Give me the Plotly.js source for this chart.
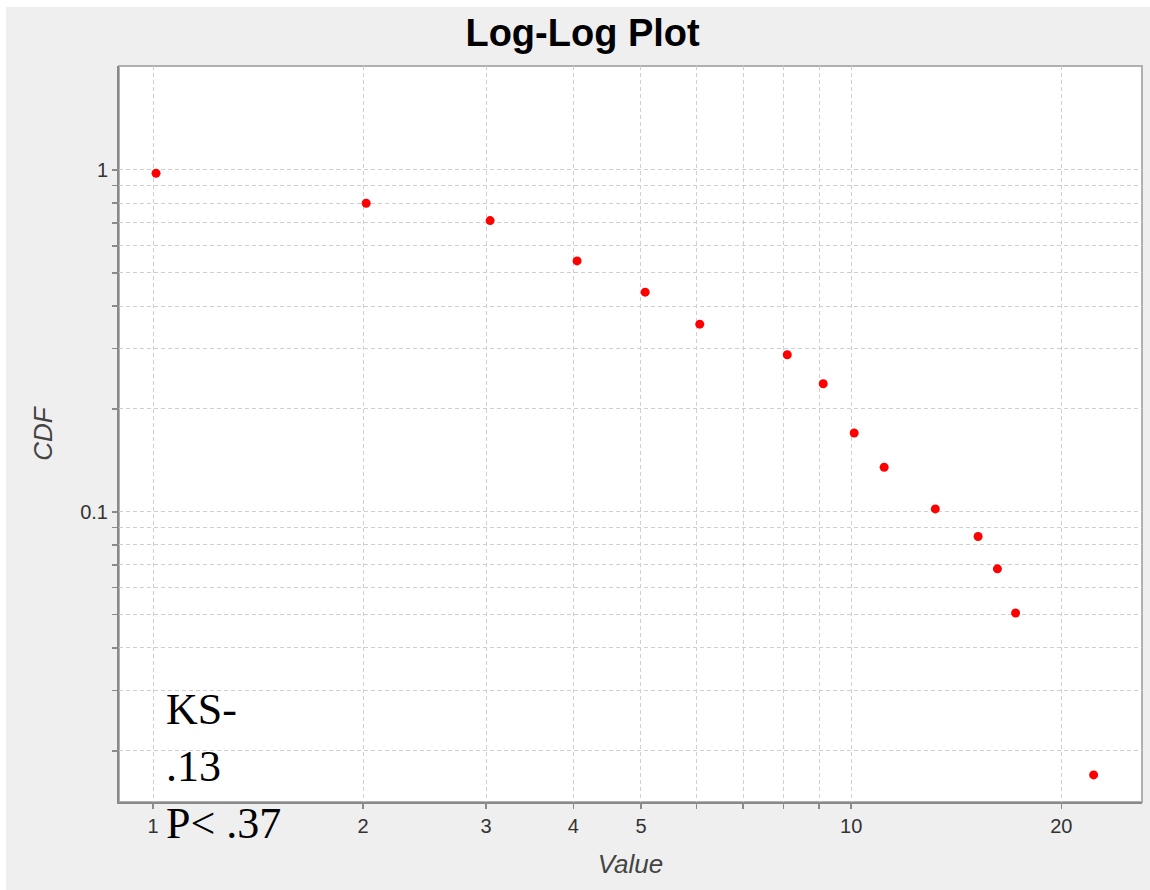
<!DOCTYPE html>
<html>
<head>
<meta charset="utf-8">
<script src="https://cdn.plot.ly/plotly-3.0.1.min.js"></script>
<style>
  html, body { margin: 0; padding: 0; background: #ffffff; width: 1150px; height: 890px; overflow: hidden; }
  #chart { position: absolute; left: 6px; top: 7px; width: 1144px; height: 883px; }
</style>
</head>
<body>
<div id="chart"></div>
<script>
// Data
const values = [1.01, 2.02, 3.04, 4.05, 5.07, 6.07, 8.1, 9.12, 10.1, 11.15, 13.2, 15.2, 16.2, 17.2, 22.25];
const cdf    = [0.978, 0.799, 0.711, 0.542, 0.439, 0.354, 0.288, 0.237, 0.170, 0.135, 0.102, 0.0847, 0.0681, 0.0506, 0.0170];

// Tick positions / labels
const xTickVals = [1, 2, 3, 4, 5, 6, 7, 8, 9, 10, 20];
const xTickText = ['1', '2', '3', '4', '5', '', '', '', '', '10', '20'];
const yTickVals = [0.02, 0.03, 0.04, 0.05, 0.06, 0.07, 0.08, 0.09, 0.1, 0.2, 0.3, 0.4, 0.5, 0.6, 0.7, 0.8, 0.9, 1];
const yTickText = ['', '', '', '', '', '', '', '', '0.1', '', '', '', '', '', '', '', '', '1'];

const chartTitle = 'Log-Log Plot';
const xTitle = 'Value';
const yTitle = 'CDF';
const noteLines = ['KS-', '.13', 'P< .37'];

const trace = {
  x: values,
  y: cdf,
  type: 'scatter',
  mode: 'markers',
  marker: { color: '#ff0000', size: 9, line: { width: 0 } },
  hoverinfo: 'x+y',
  showlegend: false
};

const axisCommon = {
  type: 'log',
  tickmode: 'array',
  showgrid: true,
  gridcolor: '#cfcfcf',
  gridwidth: 1,
  griddash: '4px,3px',
  zeroline: false,
  showline: true,
  linecolor: '#8a8a8a',
  linewidth: 2,
  ticks: 'outside',
  ticklen: 5,
  tickwidth: 1.5,
  tickcolor: '#8a8a8a',
  tickfont: { family: 'Liberation Sans, Arial, sans-serif', size: 20, color: '#333333' },
  automargin: false
};

const layout = {
  width: 1144,
  height: 883,
  paper_bgcolor: '#efefef',
  plot_bgcolor: '#ffffff',
  margin: { l: 113, r: 8, t: 59, b: 88 },
  title: {
    text: '<b>' + chartTitle + '</b>',
    font: { family: 'Liberation Sans, Arial, sans-serif', size: 38, color: '#000000' },
    x: 0.504, xref: 'container', xanchor: 'center',
    y: 0.971, yref: 'container', yanchor: 'middle'
  },
  xaxis: Object.assign({}, axisCommon, {
    range: [-0.0487, 1.4166],
    tickvals: xTickVals,
    ticktext: xTickText,
    title: { text: '<i>' + xTitle + '</i>', standoff: 19,
             font: { family: 'Liberation Sans, Arial, sans-serif', size: 26, color: '#444444' } }
  }),
  yaxis: Object.assign({}, axisCommon, {
    range: [-1.8488, 0.3041],
    tickvals: yTickVals,
    ticktext: yTickText,
    title: { text: '<i>' + yTitle + '</i>', standoff: 20,
             font: { family: 'Liberation Sans, Arial, sans-serif', size: 26, color: '#444444' } }
  }),
  shapes: [{
    type: 'rect', xref: 'paper', yref: 'paper', x0: 0, x1: 1, y0: 0, y1: 1,
    line: { color: '#b0b0b0', width: 2 }, fillcolor: 'rgba(0,0,0,0)', layer: 'below'
  }],
  annotations: [{
    xref: 'paper', yref: 'paper', x: 0.044, y: 0.048,
    xanchor: 'left', yanchor: 'middle', align: 'left', showarrow: false,
    text: noteLines.join('<br>'),
    font: { family: 'Liberation Serif, Times New Roman, serif', size: 44, color: '#000000' }
  }]
};

Plotly.newPlot('chart', [trace], layout, { displayModeBar: false, staticPlot: true });
</script>
</body>
</html>
